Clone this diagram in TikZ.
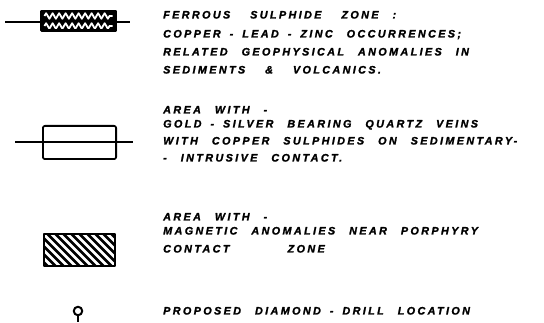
\documentclass[tikz,border=0pt]{standalone}
\usepackage{fontspec}
\setmainfont{Liberation Sans}
\newfontfamily\letterfont[LetterSpace=22,WordSpace=2.6,FakeBold=1.6]{Liberation Sans}
\usepackage{tikz}
\usetikzlibrary{positioning,calc,decorations.pathmorphing}
\definecolor{inkc}{HTML}{000000}
\newcommand{\dsh}{\kern9pt-\kern9pt}
\tikzset{
  legtext/.style={anchor=west,inner sep=0pt,text height=7pt,text depth=0pt,
    font=\letterfont\bfseries\itshape\fontsize{10.8}{12}\selectfont},
  legline/.style={line width=1.4pt,inkc},
  zonebox/.style={draw=inkc,inner sep=0pt}}

\begin{document}
\begin{tikzpicture}[x=1pt,y=-1pt,line join=round]
  \useasboundingbox (0,0) rectangle (544,323);
  % ferrous sulphide zone
  \node[zonebox,line width=2.5pt,fill=inkc,minimum width=74.5pt,minimum height=19.5pt,
    path picture={
      \begin{scope}[shift={(path picture bounding box.center)}]
        \foreach \y in {-5,5}
          \draw[white,line width=1.8pt,decorate,decoration={zigzag,segment length=6.5pt,amplitude=2.8pt}]
            (-34,\y) -- (34,\y);
      \end{scope}}] (fz) at (78.5,21) {};
  \coordinate (fzl) at (5,22);
  \coordinate (fzr) at (130,22);
  \draw[legline] (fzl) -- (fz.west |- fzl);
  \draw[legline] (fz.east |- fzr) -- (fzr);
  \foreach \y/\t [count=\i] in {15/FERROUS \kern6pt SULPHIDE \kern6pt ZONE :,
      34/COPPER\dsh LEAD\dsh ZINC OCCURRENCES;,
      52/RELATED GEOPHYSICAL ANOMALIES IN,
      70/SEDIMENTS \kern6pt\& \kern6pt VOLCANICS.}
    \node[legtext] (fz\i) at (163,\y) {\t};
  % gold-silver veins
  \node[zonebox,line width=1.8pt,rounded corners=2pt,minimum width=73.2pt,minimum height=33.2pt]
    (gv) at (79.5,142.5) {};
  \coordinate (gvl) at (15,142);
  \coordinate (gvr) at (133,142);
  \draw[legline] (gvl) -- (gvr);
  \foreach \y/\t [count=\i] in {110/AREA WITH -,
      124/GOLD\dsh SILVER BEARING QUARTZ VEINS,
      141/WITH COPPER SULPHIDES ON SEDIMENTARY-,
      158/- INTRUSIVE CONTACT.}
    \node[legtext] (gv\i) at (163,\y) {\t};
  % magnetic anomalies
  \node[zonebox,line width=2pt,minimum width=71pt,minimum height=32pt,
    path picture={
      \begin{scope}[shift={(path picture bounding box.center)}]
        \foreach \x in {-76,-68,...,44}
          \draw[inkc,line width=2.6pt] (\x,-20) -- (\x+40,20);
      \end{scope}}] (mg) at (79.5,250) {};
  \foreach \y/\t [count=\i] in {217/AREA WITH -,
      231/MAGNETIC ANOMALIES NEAR PORPHYRY,
      249/CONTACT \hspace{2.8em} ZONE}
    \node[legtext] (mg\i) at (163,\y) {\t};
  % drill location
  \node[circle,draw=inkc,line width=2pt,minimum size=8.5pt,inner sep=0pt] (dd) at (78,311) {};
  \coordinate (ddf) at (78,322);
  \draw[line width=2pt,inkc] (dd.south) -- (ddf);
  \node[legtext] (dt) at (163,311) {PROPOSED DIAMOND\dsh DRILL LOCATION};
\end{tikzpicture}
\end{document}
